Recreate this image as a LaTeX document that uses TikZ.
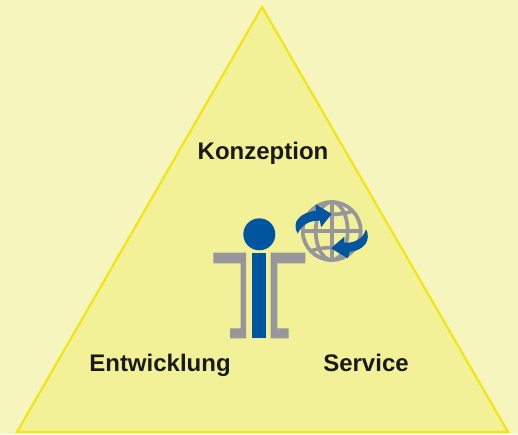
\documentclass[tikz,border=0pt]{standalone}
\usepackage{fontspec}
\setmainfont{Liberation Sans}
\definecolor{bgc}{RGB}{247,245,190}
\definecolor{tri}{RGB}{243,241,152}
\definecolor{triline}{RGB}{240,230,20}
\definecolor{greyc}{RGB}{150,150,155}
\definecolor{bluec}{RGB}{0,85,160}
\tikzset{
  lbl/.style={font=\fontsize{24}{26}\selectfont\bfseries,text=black!90,inner sep=0pt,anchor=base},
  grid/.style={draw=greyc,line width=3.7pt},
  greyp/.style={fill=greyc,draw=none},
  bluep/.style={fill=bluec,draw=none}
}
\begin{document}
\begin{tikzpicture}[x=1pt,y=-1pt]
\useasboundingbox (0,0) rectangle (518,434);
\fill[bgc] (0,0) rectangle (518,434);
\draw[fill=tri,draw=triline,line width=2.2pt,line join=miter] (262,7) -- (508,432) -- (17,432) -- cycle;
% person
\fill[bluep] (259.3,234.3) circle (16);
\fill[bluep] (252.3,253.3) rectangle (266,338.3);
\fill[greyp] (213.3,252.7) -- (246,252.7) -- (246,338.3) -- (230,338.3) -- (230,328.3) -- (240.7,328.3) -- (240.7,263.3) -- (213.3,263.3) -- cycle;
\fill[greyp] (305.3,252.7) -- (270.7,252.7) -- (270.7,338.3) -- (288.7,338.3) -- (288.7,328.3) -- (277.3,328.3) -- (277.3,263.3) -- (305.3,263.3) -- cycle;
% globe
\begin{scope}[shift={(331.7,231)}]
\draw[grid] (0,0) circle (29);
\draw[grid] (0,-29) -- (0,29);
\draw[grid] (-29,0) -- (29,0);
\draw[grid] (0,0) ellipse (16 and 29);
\draw[grid] (-21,-20) .. controls (-10,-15.5) and (10,-15.5) .. (21,-20);
\draw[grid] (-21,20) .. controls (-10,15.5) and (10,15.5) .. (21,20);
\end{scope}
% arrows
\fill[bluep] (297.7,233.5) .. controls (294.5,229) and (295,222) .. (298,219) .. controls (302,214) and (309,211.5) .. (315.7,210.7) -- (315.7,204.3) -- (331.7,214) -- (321,227.3) -- (320,220.7) .. controls (311,220) and (302,224) .. (297.7,233.5) -- cycle;
\fill[bluep] (366,229.3) .. controls (368.5,233) and (368.5,240) .. (365.5,244) .. controls (361,249.5) and (355,251.5) .. (350,251.7) -- (347.7,258.3) -- (331,248.3) -- (344.3,236.7) -- (344.3,242.7) .. controls (354,243.5) and (363,239) .. (366,229.3) -- cycle;
\node[lbl] (k) at (263,159) {Konzeption};
\node[lbl] (e) at (160,371) {Entwicklung};
\node[lbl] (s) at (366,371) {Service};
\end{tikzpicture}
\end{document}
